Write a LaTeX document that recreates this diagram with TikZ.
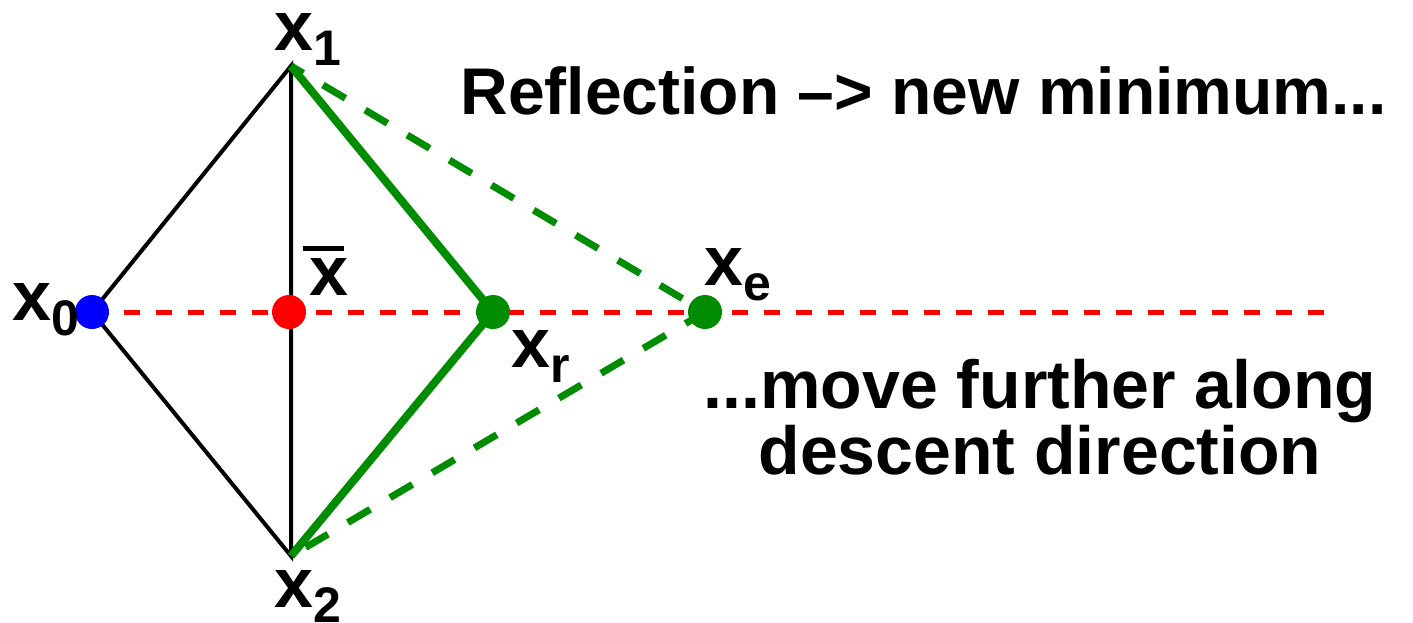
\documentclass[tikz,border=0pt]{standalone}
\usepackage{fontspec}
\setmainfont{Liberation Sans}
\usepackage{tikz}
\definecolor{simplexgreen}{RGB}{0,140,0}
\newcommand{\subl}[1]{\raisebox{-7.5pt}{\fontsize{25}{25}\selectfont #1}}
\newcommand{\xbar}{\makebox[0pt][l]{\hspace{-3pt}\raisebox{22pt}{\rule{20.5pt}{2.5pt}}}x}
\tikzset{
  edge/.style={line width=2pt,black},
  axis/.style={line width=2.5pt,red,dash pattern=on 8pt off 8pt},
  refl/.style={line width=4pt,simplexgreen},
  expd/.style={line width=3.5pt,simplexgreen,dash pattern=on 13pt off 11.5pt,dash phase=5.9pt},
  lab/.style={font=\fontsize{35}{35}\selectfont\bfseries,inner sep=0pt,anchor=base west},
  note/.style={font=\fontsize{33}{32}\selectfont\bfseries,align=center,inner sep=0pt}
}
\begin{document}
\begin{tikzpicture}[x=0.5pt,y=-0.5pt]
\useasboundingbox (0,0) rectangle (1413,622);
% simplex corners and points on the search line
\coordinate (x1) at (291,66);
\coordinate (x2) at (291,556);
\coordinate (x0) at (92,312);
\coordinate (xbar) at (289,312);
\coordinate (xr) at (493,312);
\coordinate (xe) at (705,312);
\coordinate (axisend) at (1325,312);
% edges
\draw[edge] (x0) -- (x1) -- (x2) -- (x0);
\draw[axis] (x0) -- (axisend);
\draw[refl] (x1) -- (xr) -- (x2);
\draw[expd] (x1) -- (xe) -- (x2);
\foreach \p/\c in {x0/blue,xbar/red,xr/simplexgreen,xe/simplexgreen}
  \fill[\c] (\p) circle (8.5pt);
% labels
\node[lab] (lx1) at (274,50) {x\subl{1}};
\node[lab] (lx2) at (274,607) {x\subl{2}};
\node[lab] (lx0) at (12,320) {x\subl{0}};
\node[lab] (lxbar) at (309,295) {\xbar};
\node[lab] (lxr) at (511,367) {x\subl{r}};
\node[lab] (lxe) at (704,285) {x\subl{e}};
% captions
\node[note,anchor=base west] (reflnote) at (460,114) {Reflection –> new minimum...};
\node[note,font=\fontsize{34}{31.5}\selectfont\bfseries] (expnote) at (1040,417) {...move further along\\descent direction};
\end{tikzpicture}
\end{document}
